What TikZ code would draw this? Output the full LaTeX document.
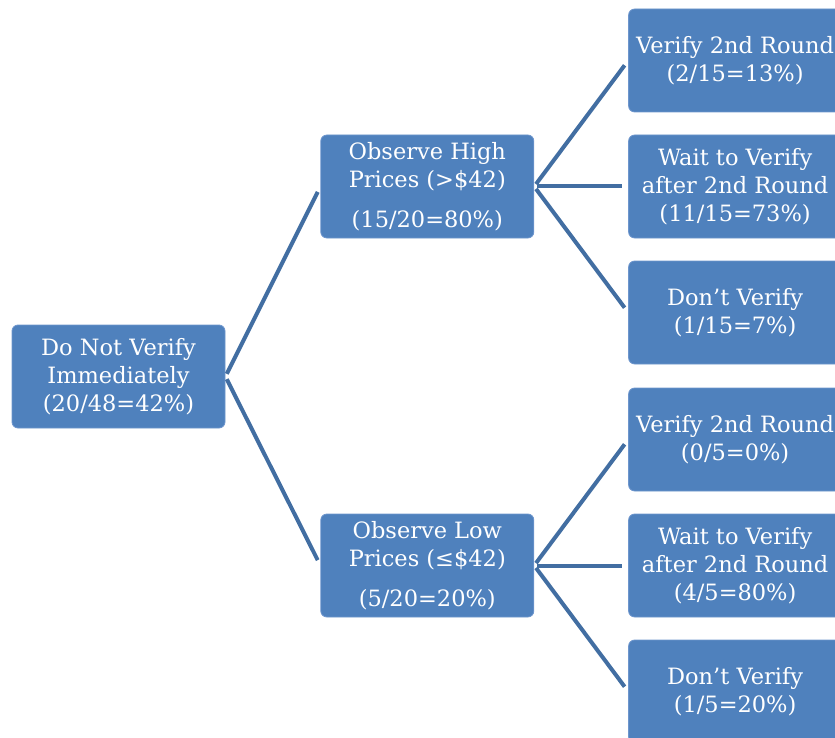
\documentclass[tikz,border=0pt]{standalone}
\usepackage{fontspec}
\setmainfont{DejaVu Serif}
\usepackage{xcolor}
\usetikzlibrary{positioning}
\definecolor{boxblue}{RGB}{79,129,189}
\definecolor{boxedge}{RGB}{110,150,205}
\definecolor{linkblue}{RGB}{66,110,162}
\tikzstyle{box} = [draw=boxedge, line width=0.8pt, fill=boxblue, rounded corners=6pt,
   minimum width=213pt, minimum height=103pt, inner sep=1pt, align=center,
   text=white, font=\fontsize{22.5}{28}\selectfont]
\tikzstyle{link} = [linkblue, line width=4pt, shorten <=3pt, shorten >=6pt]

\begin{document}
\begin{tikzpicture}[x=1pt, y=-1pt]
  \useasboundingbox (0,0) rectangle (835,738);
  \clip (0,0) rectangle (835,738);

  \node[box] (root) at (118.5,376.5) {Do Not Verify\\Immediately\\(20/48=42\%)};
  \node[box, right=95pt of root, yshift=190pt] (high)
     {Observe High\\Prices (>\$42)\\[12pt](15/20=80\%)};
  \node[box, right=95pt of root, yshift=-189pt] (low)
     {Observe Low\\Prices (≤\$42)\\[12pt](5/20=20\%)};

  % branches after high prices
  \node[box, right=94pt of high, yshift=126pt] (hv) {Verify 2nd Round\\(2/15=13\%)};
  \node[box, right=94pt of high] (hw) {Wait to Verify\\after 2nd Round\\(11/15=73\%)};
  \node[box, right=94pt of high, yshift=-126pt] (hd) {Don’t Verify\\(1/15=7\%)};

  % branches after low prices
  \node[box, right=94pt of low, yshift=126pt] (lv) {Verify 2nd Round\\(0/5=0\%)};
  \node[box, right=94pt of low] (lw) {Wait to Verify\\after 2nd Round\\(4/5=80\%)};
  \node[box, right=94pt of low, yshift=-126pt] (ld) {Don’t Verify\\(1/5=20\%)};

  % connectors
  \draw[link] (root.east) -- (high.west);
  \draw[link] (root.east) -- (low.west);
  \draw[link] (high.east) -- (hv.west);
  \draw[link] (high.east) -- (hw.west);
  \draw[link] (high.east) -- (hd.west);
  \draw[link] (low.east) -- (lv.west);
  \draw[link] (low.east) -- (lw.west);
  \draw[link] (low.east) -- (ld.west);
\end{tikzpicture}
\end{document}
